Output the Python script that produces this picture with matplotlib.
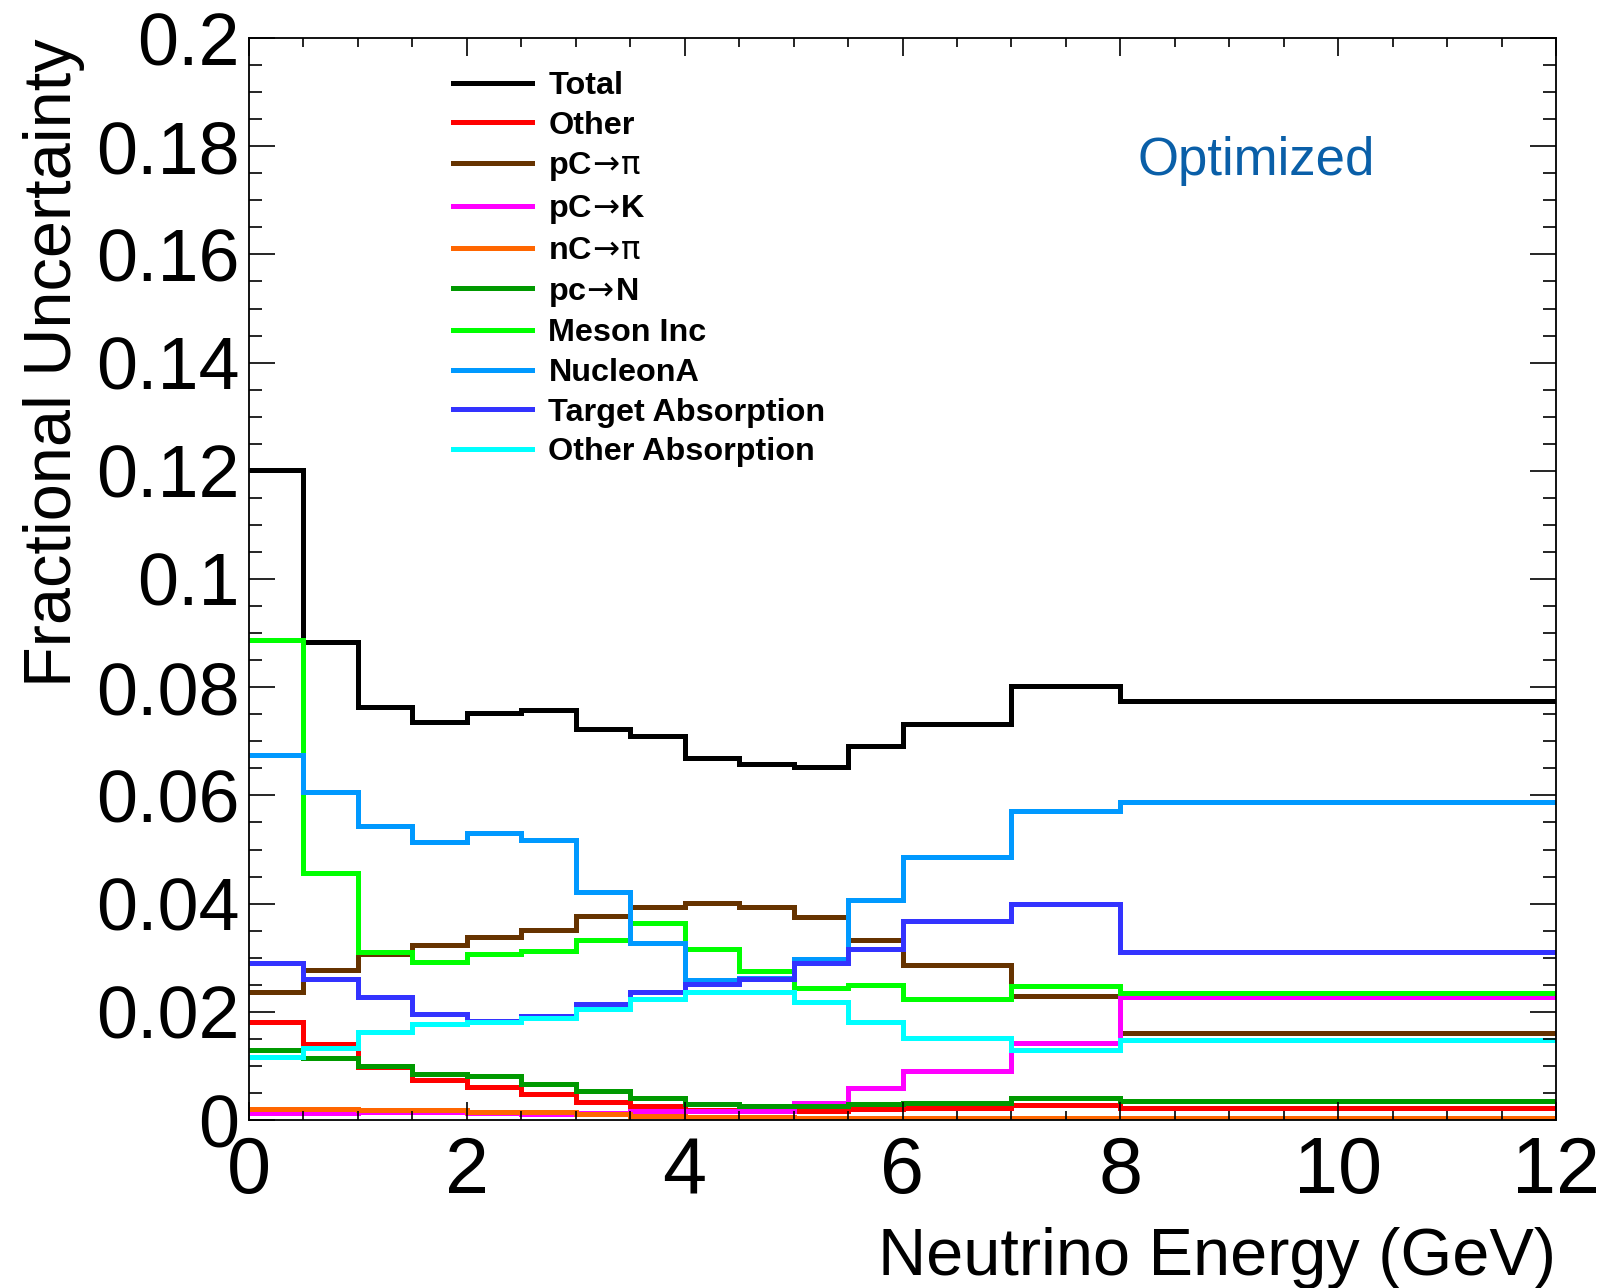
import matplotlib
matplotlib.use("Agg")
import matplotlib.pyplot as plt
from matplotlib.ticker import MultipleLocator
import numpy as np

edges = [0, 0.5, 1, 1.5, 2, 2.5, 3, 3.5, 4, 4.5, 5, 5.5, 6, 7, 8, 12]

total      = [0.1202, 0.0883, 0.0764, 0.0736, 0.0753, 0.0757, 0.0722, 0.0709, 0.0670, 0.0658, 0.0652, 0.0691, 0.0732, 0.0803, 0.0774]
other      = [0.0181, 0.0140, 0.0098, 0.0074, 0.0061, 0.0048, 0.0033, 0.0026, 0.0018, 0.0018, 0.0017, 0.0020, 0.0023, 0.0027, 0.0023]
pc_pi      = [0.0236, 0.0277, 0.0306, 0.0323, 0.0338, 0.0351, 0.0378, 0.0394, 0.0401, 0.0393, 0.0376, 0.0333, 0.0287, 0.0230, 0.0160]
pc_k       = [0.0013, 0.0013, 0.0014, 0.0014, 0.0013, 0.0011, 0.0013, 0.0016, 0.0016, 0.0017, 0.0032, 0.0059, 0.0090, 0.0143, 0.0228]
nc_pi      = [0.0021, 0.0021, 0.0018, 0.0018, 0.0015, 0.0015, 0.0011, 0.0008, 0.0005, 0.0005, 0.0003, 0.0003, 0.0003, 0.0003, 0.0003]
pc_n       = [0.0129, 0.0114, 0.0100, 0.0085, 0.0082, 0.0067, 0.0054, 0.0041, 0.0030, 0.0026, 0.0026, 0.0029, 0.0032, 0.0040, 0.0036]
meson_inc  = [0.0888, 0.0456, 0.0310, 0.0292, 0.0307, 0.0313, 0.0333, 0.0364, 0.0316, 0.0275, 0.0244, 0.0249, 0.0224, 0.0248, 0.0234]
nucleon_a  = [0.0675, 0.0607, 0.0543, 0.0514, 0.0531, 0.0518, 0.0421, 0.0328, 0.0259, 0.0262, 0.0298, 0.0407, 0.0487, 0.0572, 0.0587]
target_abs = [0.0290, 0.0261, 0.0228, 0.0196, 0.0183, 0.0193, 0.0215, 0.0236, 0.0251, 0.0261, 0.0290, 0.0316, 0.0368, 0.0399, 0.0310]
other_abs  = [0.0117, 0.0133, 0.0163, 0.0178, 0.0181, 0.0188, 0.0206, 0.0224, 0.0237, 0.0237, 0.0219, 0.0181, 0.0151, 0.0130, 0.0147]

labels = ["Total", "Other", r"pC$\!\rightarrow\!\mathrm{\pi}$", r"pC$\!\rightarrow\!$K",
          r"nC$\!\rightarrow\!\mathrm{\pi}$", r"pc$\!\rightarrow\!$N",
          "Meson Inc", "NucleonA", "Target Absorption", "Other Absorption"]
series = [total, other, pc_pi, pc_k, nc_pi, pc_n, meson_inc, nucleon_a, target_abs, other_abs]
colors = ["#000000", "#ff0000", "#663300", "#ff00ff", "#ff6600", "#009900",
          "#00ff00", "#0099ff", "#3333ff", "#00ffff"]

plt.rcParams['font.family'] = ['Liberation Sans', 'DejaVu Sans']

fig = plt.figure(figsize=(16.16, 12.88), dpi=100)
ax = fig.add_axes([249/1616, 1 - 1120/1288, (1556 - 249)/1616, (1120 - 38)/1288])

for vals, lab, col in zip(series, labels, colors):
    ax.stairs(vals, edges, color=col, linewidth=3.6, label=lab, baseline=None)

ax.set_xlim(0, 12)
ax.set_ylim(0, 0.2)

ax.xaxis.set_major_locator(MultipleLocator(2))
ax.xaxis.set_minor_locator(MultipleLocator(0.5))
ax.yaxis.set_major_locator(MultipleLocator(0.02))
ax.yaxis.set_minor_locator(MultipleLocator(0.005))

ax.tick_params(axis='both', which='both', direction='in', top=True, right=True, width=1.2)
ax.tick_params(axis='x', which='major', length=13, labelsize=57, pad=11)
ax.tick_params(axis='x', which='minor', length=6.5)
ax.tick_params(axis='y', which='major', length=18.5, labelsize=53, pad=7)
ax.tick_params(axis='y', which='minor', length=9.5)

def yfmt(v, pos):
    s = ("%.2f" % v).rstrip('0').rstrip('.')
    return s
ax.yaxis.set_major_formatter(plt.FuncFormatter(yfmt))
ax.xaxis.set_major_formatter(plt.FuncFormatter(lambda v, p: "%d" % round(v)))

for sp in ax.spines.values():
    sp.set_linewidth(1.3)

ax.set_xlabel("Neutrino Energy (GeV)", fontsize=48, loc='right', labelpad=12)
ax.set_ylabel("Fractional Uncertainty", fontsize=48, loc='top', labelpad=8)

leg = ax.legend(loc='upper left', bbox_to_anchor=((453 - 249) / 1307, 1 - (71 - 38) / 1082),
                frameon=False, prop={'weight': 'bold', 'size': 23.3},
                handlelength=2.45, handletextpad=0.5, labelspacing=0.30,
                borderaxespad=0, borderpad=0)
for line in leg.get_lines():
    line.set_linewidth(3.6)

ax.text(1137, 1288 - 161, "Optimized", transform=None, fontsize=38, color="#0a5fa8",
        ha='left', va='center')

fig.savefig("out.png", dpi=100)
